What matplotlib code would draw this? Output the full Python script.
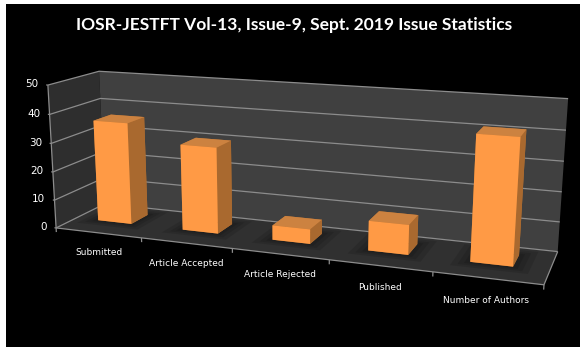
import numpy as np
from matplotlib import pyplot as plt
from matplotlib.patches import Rectangle
from mpl_toolkits.mplot3d.art3d import Poly3DCollection, Line3DCollection

W, H = 585, 352

title = "IOSR-JESTFT Vol-13, Issue-9, Sept. 2019 Issue Statistics"
categories = ["Submitted", "Article Accepted", "Article Rejected", "Published", "Number of Authors"]
values = [36, 30, 5, 10, 41]
z_ticks = [0, 10, 20, 30, 40, 50]

# frame of the picture: (category, depth, value) -> pixel, fitted below
frame_3d = [(0, 0, 0), (0, 0, 50), (5, 0, 0), (0, 1, 0), (0, 1, 50), (5, 1, 0), (5, 1, 50),
            (1, 0, 0), (2, 0, 0), (3, 0, 0), (4, 0, 0)]
frame_px = [(57, 226), (47, 85), (544, 285), (104, 205), (100, 71), (558, 250), (568, 99),
            (142, 238), (232, 249), (329, 261), (433, 272)]

A, b = [], []
for (x, y, z), (u, v) in zip(frame_3d, frame_px):
    A.append([x, y, z, 1, 0, 0, 0, 0, -u * x, -u * y, -u * z])
    A.append([0, 0, 0, 0, x, y, z, 1, -v * x, -v * y, -v * z])
    b += [u, v]
p = np.linalg.lstsq(np.array(A, float), np.array(b, float), rcond=None)[0]
P = np.append(p, 1).reshape(3, 4)


def to_fig(x, y, z):
    u, v, w = P @ np.array([x, y, z, 1.0])
    return u / w / W, 1 - v / w / H


fig = plt.figure(figsize=(W / 100, H / 100), dpi=100, facecolor="white")
fig.add_artist(Rectangle((6 / W, 1 - 347 / H), 574 / W, 343 / H, transform=fig.transFigure,
                         fc="black", ec="none", zorder=-1))

# 3d axes are always square, so make it as wide as the figure and centre it
side = W / H
ax = fig.add_axes([0, (1 - side) / 2, 1, side], projection="3d")
ax.set_axis_off()
ax.patch.set_visible(False)
ax.computed_zorder = False

x0, x1 = ax.viewLim.intervalx
y0, y1 = ax.viewLim.intervaly
off = (W - H) / 2
to_view = np.array([[(x1 - x0) / W, 0, x0],
                    [0, -(y1 - y0) / W, y0 + (H + off) * (y1 - y0) / W],
                    [0, 0, 1]])
Q = to_view @ P
depth = np.array([-0.02, 1, -0.0005, 0])
M = np.vstack([Q[0], Q[1], depth, Q[2]])
ax.get_proj = lambda: M


def quad(color, pts, zorder, alpha=None):
    c = Poly3DCollection([pts], facecolors=color, edgecolors="none", alpha=alpha)
    c.set_zorder(zorder)
    ax.add_collection3d(c)


# walls and floor
quad("#2e2e2e", [(0, 0, 0), (0, 1, 0), (0, 1, 50), (0, 0, 50)], 1)
quad("#404040", [(0, 1, 0), (5, 1, 0), (5, 1, 50), (0, 1, 50)], 1)
quad("#303030", [(0, 0, 0), (5, 0, 0), (5, 1, 0), (0, 1, 0)], 1)

# grid lines round the two walls
segs = []
for z in z_ticks:
    segs.append([(0, 0, z), (0, 1, z), (5, 1, z)])
    segs.append([(-0.02, 0, z), (0, 0, z)])
segs.append([(0, 0, 0), (0, 0, 50)])
segs.append([(0, 0, 0), (5, 0, 0), (5, 1, 0)])
for i in range(len(categories) + 1):
    segs.append([(i, 0, 0), (i, 0, -1.5)])
grid = Line3DCollection(segs, colors="#8c8c8c", linewidths=0.9)
grid.set_zorder(2)
ax.add_collection3d(grid, autolim=False)

# bars
xpos = np.arange(len(values)) + 0.265
ypos = np.full(len(values), 0.4)
bar_w, bar_d = 0.4, 0.36

# soft shadow on the floor
for grow in [0.16, 0.1, 0.05]:
    for x, y in zip(xpos, ypos):
        quad("#000000", [(x - grow, y - grow, 0), (x + bar_w + grow, y - grow, 0),
                         (x + bar_w + grow, y + bar_d + grow, 0), (x - grow, y + bar_d + grow, 0)],
             3, alpha=0.11)

# face order in bar3d: bottom, top, front, back, left, right
faces = ["#b87333", "#cc8240", "#ff9a45", "#b87333", "#b87333", "#a9692f"]
ax.bar3d(xpos, ypos, np.zeros(len(values)), bar_w, bar_d, values,
         color=faces * len(values), shade=False, zorder=4, linewidth=0.3)

# labels
for z in z_ticks:
    fx, fy = to_fig(-0.11, 0, z)
    fig.text(fx, fy, str(z), color="white", fontsize=7.5, ha="right", va="center",
             family="DejaVu Sans")
for i, name in enumerate(categories):
    fx, fy = to_fig(i + 0.5, 0, -7)
    fig.text(fx, fy, name, color="white", fontsize=6.5, ha="center", va="center",
             family="DejaVu Sans")

fig.text(294 / W, 1 - 25 / H, title, color="white", fontsize=12.5, fontweight="bold",
         ha="center", va="center", family="Lato")

plt.savefig("out.png", dpi=100)
